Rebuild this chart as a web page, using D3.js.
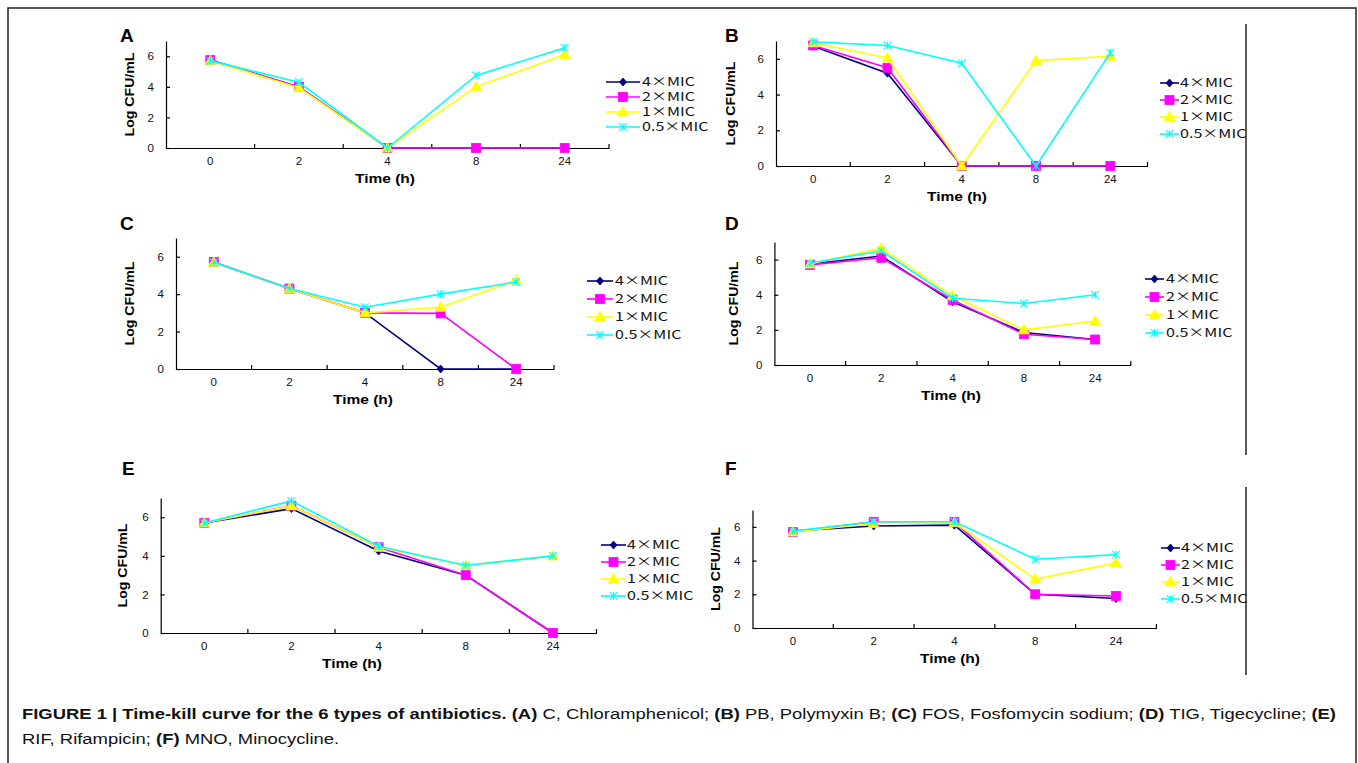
<!DOCTYPE html>
<html><head><meta charset="utf-8">
<script src="https://cdn.jsdelivr.net/npm/d3@7"></script>
<style>html,body{margin:0;padding:0;background:#fff;} svg{display:block;}</style>
</head><body>
<script>
// ---------------- DATA ----------------
const categories = ["0", "2", "4", "8", "24"];
const seriesNames = ["4×MIC", "2×MIC", "1×MIC", "0.5×MIC"];
const yTicks = [0, 2, 4, 6];
const yMax = 7;
const panelLetters = ["A", "B", "C", "D", "E", "F"];
const xTitle = "Time (h)";
const yTitle = "Log CFU/mL";

// each: [4×MIC, 2×MIC, 1×MIC, 0.5×MIC] at 0,2,4,8,24 h
const valuesA = [
  [5.75, 4.0, 0, 0, 0],
  [5.75, 4.0, 0, 0, 0],
  [5.7, 3.95, 0, 4.0, 6.1],
  [5.7, 4.3, 0, 4.75, 6.55]
];
const valuesB = [
  [6.7, 5.2, 0, 0, 0],
  [6.75, 5.5, 0, 0, 0],
  [6.9, 6.05, 0, 5.9, 6.15],
  [6.95, 6.75, 5.75, 0, 6.35]
];
const valuesC = [
  [5.7, 4.3, 3.0, 0, 0],
  [5.72, 4.3, 3.0, 2.97, 0],
  [5.7, 4.3, 3.0, 3.3, 4.75],
  [5.7, 4.3, 3.3, 4.0, 4.65]
];
const valuesD = [
  [5.75, 6.2, 3.6, 1.85, 1.45],
  [5.7, 6.1, 3.7, 1.75, 1.45],
  [5.75, 6.65, 3.95, 2.0, 2.5],
  [5.8, 6.5, 3.8, 3.5, 4.0]
];
const valuesE = [
  [5.7, 6.45, 4.25, 3.0, 0],
  [5.7, 6.6, 4.45, 3.0, 0],
  [5.7, 6.6, 4.45, 3.5, 4.0],
  [5.7, 6.85, 4.5, 3.5, 4.0]
];
const valuesF = [
  [5.75, 6.05, 6.1, 2.0, 1.75],
  [5.7, 6.3, 6.3, 2.0, 1.9],
  [5.7, 6.2, 6.25, 2.9, 3.85],
  [5.75, 6.3, 6.3, 4.08, 4.35]
];
const panelValues = [valuesA, valuesB, valuesC, valuesD, valuesE, valuesF];

const captionLine1 = [
  ["FIGURE 1 | Time-kill curve for the 6 types of antibiotics. ", true],
  ["(A)", true], [" C, Chloramphenicol; ", false],
  ["(B)", true], [" PB, Polymyxin B; ", false],
  ["(C)", true], [" FOS, Fosfomycin sodium; ", false],
  ["(D)", true], [" TIG, Tigecycline; ", false],
  ["(E)", true]
];
const captionLine2 = [
  ["RIF, Rifampicin; ", false], ["(F)", true], [" MNO, Minocycline.", false]
];

// ---------------- LAYOUT / STYLE ----------------
const seriesColors = ["#000080", "#FF00FF", "#FFFF00", "#00FFFF"];
const seriesMarkers = ["diamond", "square", "triangle", "asterisk"];

const layouts = [
  {x0: 166, x1: 609, yTop: 41, y0: 148, ylabX: 130, timeX: 385, letter: [120, 42],
   leg: {x0: 606, x1: 640, tx: 642, ys: [82, 97, 112, 127]}},
  {x0: 776, x1: 1147.5, yTop: 41, y0: 166, ylabX: 731, timeX: 957, letter: [725, 42],
   leg: {x0: 1160, x1: 1179, tx: 1180, ys: [83, 100, 117, 134]}},
  {x0: 176, x1: 554, yTop: 238, y0: 369, ylabX: 130, timeX: 363, letter: [120, 230],
   leg: {x0: 587, x1: 613, tx: 615, ys: [281, 299, 317, 335]}},
  {x0: 774.4, x1: 1130.8, yTop: 242, y0: 365, ylabX: 734, timeX: 951, letter: [725, 230],
   leg: {x0: 1145, x1: 1164, tx: 1166, ys: [279, 297, 315, 333]}},
  {x0: 160.7, x1: 596.5, yTop: 498, y0: 633, ylabX: 123, timeX: 352, letter: [122, 475],
   leg: {x0: 601, x1: 626, tx: 627, ys: [545, 562, 579, 596]}},
  {x0: 752.5, x1: 1156.4, yTop: 510, y0: 628, ylabX: 716, timeX: 950, letter: [725, 475],
   leg: {x0: 1161, x1: 1180, tx: 1181, ys: [548, 565, 582, 599]}}
];

const tickFont = "'Liberation Sans Narrow', 'Liberation Sans', Arial, sans-serif";
const legFont = "'Noto Sans CJK SC', 'Liberation Mono', monospace";
const titleFont = "'Liberation Sans', Arial, sans-serif";

const W = 1358, H = 763;
const svg = d3.select("body").append("svg").attr("width", W).attr("height", H);
svg.append("rect").attr("width", W).attr("height", H).attr("fill", "#fff");

// outer frame
svg.append("rect").attr("x", 8).attr("y", 8).attr("width", 1348).attr("height", 800)
  .attr("fill", "none").attr("stroke", "#222").attr("stroke-width", 1.5);
// right divider lines
svg.append("line").attr("x1", 1246).attr("x2", 1246).attr("y1", 24).attr("y2", 455)
  .attr("stroke", "#000").attr("stroke-width", 1.3);
svg.append("line").attr("x1", 1246).attr("x2", 1246).attr("y1", 487).attr("y2", 675)
  .attr("stroke", "#000").attr("stroke-width", 1.3);

function stretchTo(sel, target) {
  sel.attr("textLength", target).attr("lengthAdjust", "spacingAndGlyphs");
}

function drawMarker(g, type, cx, cy, color) {
  if (type === "diamond") {
    g.append("path").attr("d", `M${cx},${cy-4}L${cx+3.5},${cy}L${cx},${cy+4}L${cx-3.5},${cy}Z`)
      .attr("fill", color).attr("stroke", color).attr("stroke-width", 0.8);
  } else if (type === "square") {
    g.append("rect").attr("x", cx - 4.5).attr("y", cy - 4.5).attr("width", 9).attr("height", 9)
      .attr("fill", color).attr("stroke", color).attr("stroke-width", 0.8);
  } else if (type === "triangle") {
    g.append("path").attr("d", `M${cx},${cy-5.5}L${cx+5.5},${cy+4}L${cx-5.5},${cy+4}Z`)
      .attr("fill", color).attr("stroke", color).attr("stroke-width", 0.8);
  } else {
    const r = 3.8;
    g.append("path").attr("d", `M${cx-r},${cy-r}L${cx+r},${cy+r}M${cx-r},${cy+r}L${cx+r},${cy-r}M${cx},${cy-r}L${cx},${cy+r}`)
      .attr("fill", "none").attr("stroke", color).attr("stroke-width", 1.1);
  }
}

// legend stretch factor (reference text is horizontally widened)
let legK = 1;
{
  const t = svg.append("text").attr("font-family", legFont).attr("font-size", 12).text(seriesNames[0]);
  const w = t.node().getComputedTextLength();
  legK = 53 / w;
  t.remove();
}

panelValues.forEach((vals, p) => {
  const L = layouts[p];
  const g = svg.append("g");
  const x = d3.scaleBand().domain(categories).range([L.x0, L.x1]).padding(0);
  const y = d3.scaleLinear().domain([0, yMax]).range([L.y0, L.yTop]);
  const xc = c => x(c) + x.bandwidth() / 2;

  // y axis
  const ya = g.append("g").attr("transform", `translate(${L.x0},0)`)
    .call(d3.axisLeft(y).tickValues(yTicks).tickFormat(d3.format("d"))
      .tickSizeInner(-4).tickSizeOuter(0).tickPadding(12));
  ya.select(".domain").attr("stroke", "#000").attr("stroke-width", 1.2);
  ya.selectAll(".tick line").attr("stroke", "#000").attr("stroke-width", 1.2);
  ya.selectAll("text").attr("font-family", tickFont).attr("font-size", 11.5).attr("fill", "#111");

  // x axis
  const xa = g.append("g").attr("transform", `translate(0,${L.y0})`)
    .call(d3.axisBottom(x).tickSize(0).tickPadding(9));
  xa.select(".domain").attr("stroke", "#000").attr("stroke-width", 1.2);
  xa.selectAll("text").attr("font-family", tickFont).attr("font-size", 11.5).attr("fill", "#111");
  // tick marks on category boundaries (pointing up)
  g.selectAll(null).data(categories).enter().append("line")
    .attr("x1", c => x(c) + x.bandwidth()).attr("x2", c => x(c) + x.bandwidth())
    .attr("y1", L.y0).attr("y2", L.y0 - 4)
    .attr("stroke", "#000").attr("stroke-width", 1.2);

  // titles
  const tt = g.append("text").attr("x", L.timeX).attr("y", L.y0 + 35)
    .attr("text-anchor", "middle").attr("font-family", titleFont).attr("font-weight", "bold")
    .attr("font-size", 12).attr("fill", "#000").text(xTitle);
  stretchTo(tt, 60);
  const yc = (L.y0 + L.yTop) / 2;
  const yt = g.append("text").attr("transform", `translate(${L.ylabX + 4},${yc}) rotate(-90)`)
    .attr("text-anchor", "middle").attr("font-family", titleFont).attr("font-weight", "bold")
    .attr("font-size", 12).attr("fill", "#000").text(yTitle);
  stretchTo(yt, 84);

  // panel letter
  g.append("text").attr("x", L.letter[0]).attr("y", L.letter[1])
    .attr("font-family", "'Liberation Sans', Arial, sans-serif").attr("font-weight", "bold")
    .attr("font-size", 19).attr("fill", "#000").text(panelLetters[p]);

  // series
  const line = d3.line().x((d, i) => xc(categories[i])).y(d => y(d));
  vals.forEach((sv, s) => {
    const sg = g.append("g");
    sg.append("path").datum(sv).attr("d", line).attr("fill", "none")
      .attr("stroke", seriesColors[s]).attr("stroke-width", 1.6);
    sv.forEach((v, i) => drawMarker(sg, seriesMarkers[s], xc(categories[i]), y(v), seriesColors[s]));
  });

  // legend
  seriesNames.forEach((name, s) => {
    const ly = L.leg.ys[s];
    g.append("line").attr("x1", L.leg.x0).attr("x2", L.leg.x1).attr("y1", ly).attr("y2", ly)
      .attr("stroke", seriesColors[s]).attr("stroke-width", 1.6);
    drawMarker(g, seriesMarkers[s], (L.leg.x0 + L.leg.x1) / 2, ly, seriesColors[s]);
    const t = g.append("text").attr("x", L.leg.tx).attr("y", ly).attr("dy", "0.36em")
      .attr("font-family", legFont).attr("font-size", 12).attr("fill", "#111").text(name);
    const w = t.node().getComputedTextLength();
    stretchTo(t, w * legK);
  });
});

// caption
function caption(parts, yPos) {
  const t = svg.append("text").attr("x", 22).attr("y", yPos)
    .attr("font-family", "'Liberation Sans', Arial, sans-serif").attr("font-size", 15.5).attr("fill", "#111");
  parts.forEach(([txt, b]) => t.append("tspan").attr("font-weight", b ? "bold" : "normal").text(txt));
  return t;
}
const c1 = caption(captionLine1, 719);
const c2 = caption(captionLine2, 744);
const w1 = c1.node().getComputedTextLength();
const capK = 1314 / w1;
stretchTo(c1, 1314);
stretchTo(c2, c2.node().getComputedTextLength() * capK);
</script>
</body></html>
